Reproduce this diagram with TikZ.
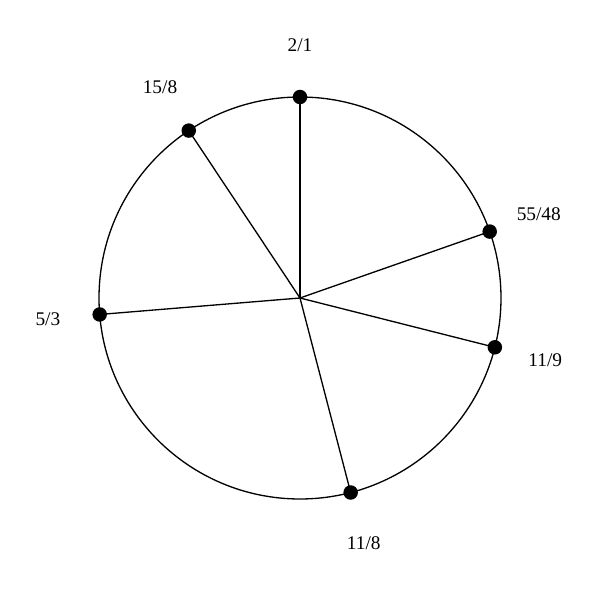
\documentclass[tikz,border=0pt]{standalone}
\usepackage{fontspec}
\setmainfont{Liberation Serif}
\usepackage{tikz}
\usetikzlibrary{positioning}

\begin{document}
\begin{tikzpicture}[
    dot/.style={circle, fill=black, inner sep=0pt, minimum size=0.29cm},
    ratio/.style={font=\fontsize{11}{13}\selectfont}
  ]
    \useasboundingbox (0,0) rectangle (12,12);
    % Draw circle
    \coordinate (c) at (6,6.04);
    \draw[line width=0.75pt] (c) circle (4.02);

    % Data: angle/label
    \foreach \i/\a/\r in {1/90/2\slash 1, 2/123.6/15\slash 8, 3/19.3/55\slash 48, 4/-14.2/11\slash 9, 5/-75.4/11\slash 8, 6/184.7/5\slash 3} {
      % Draw points, spokes and labels
      \node[dot] (p\i) at ([shift={(\a:4.02)}]c) {};
      \draw[line width=0.75pt] (c) -- (p\i.center);
      \node[ratio] (l\i) at ([shift={(\a:5.06)}]c) {\r};
    }
  \end{tikzpicture}
\end{document}
